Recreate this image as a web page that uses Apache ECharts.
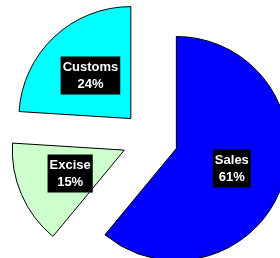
<!DOCTYPE html>
<html>
<head>
<meta charset="utf-8">
<script src="https://cdn.jsdelivr.net/npm/echarts@6/dist/echarts.min.js"></script>
<style>
  html, body { margin: 0; padding: 0; background: #fff; }
  #chart { width: 280px; height: 258px; }
</style>
</head>
<body>
<div id="chart"></div>
<script>
// 数据
const categories = ['Sales', 'Excise', 'Customs']
const shares = [61, 15, 24]
const sliceColors = ['#0000ff', '#ccffcc', '#00ffff']

const chart = echarts.init(document.getElementById('chart'), null, { renderer: 'canvas' })

chart.setOption({
  animation: false,
  series: [
    {
      type: 'pie',
      center: [150, 139],
      radius: [0, 112],
      startAngle: 90,
      clockwise: true,
      // 所有扇区都分离
      selectedMode: 'multiple',
      selectedOffset: 28,
      avoidLabelOverlap: false,
      itemStyle: { borderColor: '#000', borderWidth: 1 },
      emphasis: { disabled: true },
      label: {
        show: true,
        position: 'inside',
        formatter: '{b}\n{d}%',
        color: '#fff',
        fontFamily: 'Liberation Sans, Arial, sans-serif',
        fontWeight: 'bold',
        fontSize: 13,
        lineHeight: 17,
        backgroundColor: '#000',
        padding: [2, 2],
      },
      labelLine: { show: false },
      data: categories.map((name, i) => ({
        name,
        value: shares[i],
        selected: true,
        itemStyle: { color: sliceColors[i] },
      })),
    },
  ],
})
</script>
</body>
</html>
